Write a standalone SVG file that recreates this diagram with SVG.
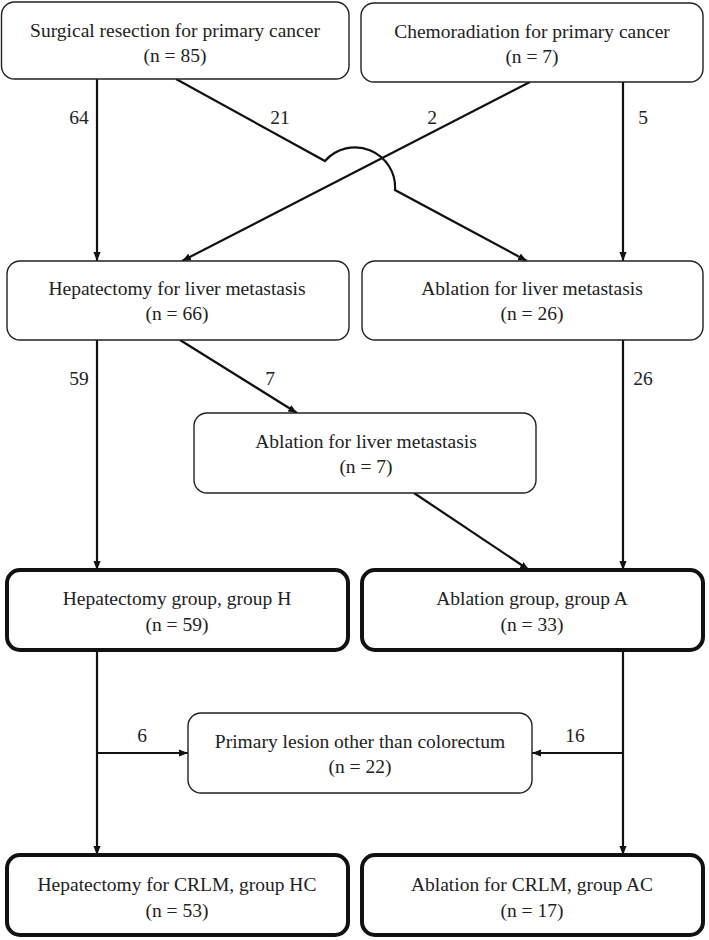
<svg xmlns="http://www.w3.org/2000/svg" width="709" height="940" viewBox="0 0 709 940">
<defs>
<style>
.box{fill:#fff;stroke:#222;stroke-width:1.4}
.bold{fill:#fff;stroke:#111;stroke-width:4}
.t{font-family:"Liberation Serif","Times New Roman",serif;font-size:19.5px;fill:#222;text-anchor:middle}
.lbl{font-family:"Liberation Serif","Times New Roman",serif;font-size:19.5px;fill:#222;text-anchor:middle}
.c{fill:none;stroke:#111;stroke-width:2.2}
</style>
<marker id="ah" viewBox="0 0 10 8" refX="10" refY="4" markerWidth="9" markerHeight="7.5" markerUnits="userSpaceOnUse" orient="auto">
<path d="M0,0 L10,4 L0,8 z" fill="#111"/>
</marker>
</defs>
<rect width="709" height="940" fill="#fff"/>
<g id="connectors">
<path class="c" d="M97,79 L97,261" marker-end="url(#ah)"/>
<path class="c" d="M176,79 L325,161 A40,40 0 0 1 395,190 L527,261" marker-end="url(#ah)"/>
<path class="c" d="M530,82 L182,261" marker-end="url(#ah)"/>
<path class="c" d="M623,82 L623,261" marker-end="url(#ah)"/>
<path class="c" d="M97,340 L97,570" marker-end="url(#ah)"/>
<path class="c" d="M180,340 L297,413" marker-end="url(#ah)"/>
<path class="c" d="M623,340 L623,570" marker-end="url(#ah)"/>
<path class="c" d="M414,493 L529,570" marker-end="url(#ah)"/>
<path class="c" d="M97,650 L97,855" marker-end="url(#ah)"/>
<path class="c" d="M97,753 L188,753" marker-end="url(#ah)"/>
<path class="c" d="M623,650 L623,855" marker-end="url(#ah)"/>
<path class="c" d="M623,753 L532,753" marker-end="url(#ah)"/>
<text class="lbl" x="79" y="124">64</text>
<text class="lbl" x="280" y="124">21</text>
<text class="lbl" x="432" y="124">2</text>
<text class="lbl" x="643" y="124">5</text>
<text class="lbl" x="79" y="385">59</text>
<text class="lbl" x="270" y="385">7</text>
<text class="lbl" x="643" y="385">26</text>
<text class="lbl" x="142" y="742">6</text>
<text class="lbl" x="575" y="742">16</text>
</g>
<g id="n1">
<rect class="box" x="1.5" y="2" width="347.5" height="77" rx="13"/>
<text class="t" x="175" y="37">Surgical resection for primary cancer</text>
<text class="t" x="175" y="62">(n = 85)</text>
</g>
<g id="n2">
<rect class="box" x="361" y="3" width="342" height="79" rx="13"/>
<text class="t" x="532" y="38">Chemoradiation for primary cancer</text>
<text class="t" x="532" y="63">(n = 7)</text>
</g>
<g id="n3">
<rect class="box" x="7" y="261" width="342" height="79" rx="13"/>
<text class="t" x="177" y="295">Hepatectomy for liver metastasis</text>
<text class="t" x="177" y="320">(n = 66)</text>
</g>
<g id="n4">
<rect class="box" x="362" y="261" width="341" height="79" rx="13"/>
<text class="t" x="532" y="295">Ablation for liver metastasis</text>
<text class="t" x="532" y="320">(n = 26)</text>
</g>
<g id="n5">
<rect class="box" x="194" y="413" width="342" height="80" rx="13"/>
<text class="t" x="366" y="448">Ablation for liver metastasis</text>
<text class="t" x="366" y="473">(n = 7)</text>
</g>
<g id="nH">
<rect class="bold" x="7" y="570" width="341" height="80" rx="13"/>
<text class="t" x="177" y="605">Hepatectomy group, group H</text>
<text class="t" x="177" y="631">(n = 59)</text>
</g>
<g id="nA">
<rect class="bold" x="362" y="570" width="341" height="80" rx="13"/>
<text class="t" x="532" y="605">Ablation group, group A</text>
<text class="t" x="532" y="631">(n = 33)</text>
</g>
<g id="nP">
<rect class="box" x="188" y="713" width="344" height="80" rx="13"/>
<text class="t" x="360" y="748">Primary lesion other than colorectum</text>
<text class="t" x="360" y="773">(n = 22)</text>
</g>
<g id="nHC">
<rect class="bold" x="7" y="855" width="341" height="80" rx="13"/>
<text class="t" x="177" y="891">Hepatectomy for CRLM, group HC</text>
<text class="t" x="177" y="917">(n = 53)</text>
</g>
<g id="nAC">
<rect class="bold" x="362" y="855" width="341" height="80" rx="13"/>
<text class="t" x="532" y="891">Ablation for CRLM, group AC</text>
<text class="t" x="532" y="917">(n = 17)</text>
</g>
</svg>
